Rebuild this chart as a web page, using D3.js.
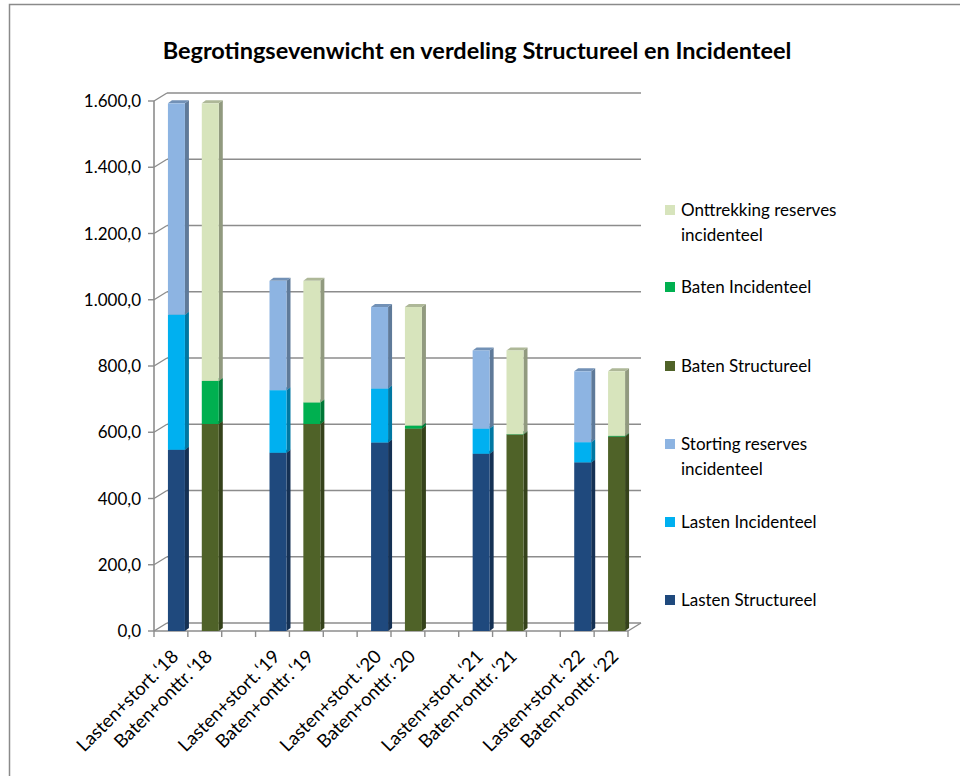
<!DOCTYPE html>
<html>
<head>
<meta charset="utf-8">
<script src="https://cdn.jsdelivr.net/npm/d3@7"></script>
<style>
  body { margin: 0; background: #fff; }
  text { font-family: Lato, "Open Sans", sans-serif; fill: #000; }
</style>
</head>
<body>
<svg id="chart" width="960" height="776"></svg>
<script>
const svg = d3.select("#chart");
const width = +svg.attr("width");
const height = +svg.attr("height");

// Data
const years = ["18", "19", "20", "21", "22"];
const lastenStructureel = [547, 538, 569, 535, 509];
const lastenIncidenteel = [408, 189, 163, 76, 61];
const stortingReserves = [638, 330, 246, 236, 214];
const batenStructureel = [625, 625, 611, 593, 587];
const batenIncidenteel = [130, 65, 9, 1, 2];
const onttrekkingReserves = [838, 367, 358, 253, 195];
const yTicks = [0, 200, 400, 600, 800, 1000, 1200, 1400, 1600];

const colors = {
  "Lasten Structureel": "#1f497d",
  "Lasten Incidenteel": "#00b0f0",
  "Storting reserves incidenteel": "#8db4e2",
  "Baten Structureel": "#4f6228",
  "Baten Incidenteel": "#00b050",
  "Onttrekking reserves incidenteel": "#d7e4bc"
};

// slots: Lasten, Baten, gap, ... (no gap after last year)
const slots = [];
years.forEach((yr, i) => {
  slots.push({ key: "L" + yr, label: "Lasten+stort.\u2009\u2018" + yr, stack: [
    ["Lasten Structureel", lastenStructureel[i]],
    ["Lasten Incidenteel", lastenIncidenteel[i]],
    ["Storting reserves incidenteel", stortingReserves[i]]] });
  slots.push({ key: "B" + yr, label: "Baten+onttr.\u2009\u2018" + yr, stack: [
    ["Baten Structureel", batenStructureel[i]],
    ["Baten Incidenteel", batenIncidenteel[i]],
    ["Onttrekking reserves incidenteel", onttrekkingReserves[i]]] });
  if (i < years.length - 1) slots.push({ key: "gap" + yr, label: "", stack: [] });
});

// frame
svg.append("rect").attr("x", 9.5).attr("y", 4.5).attr("width", 960).attr("height", 800)
  .attr("fill", "#fff").attr("stroke", "#8a8a8a").attr("stroke-width", 1.5);

// title
svg.append("text").attr("x", 477).attr("y", 59).attr("text-anchor", "middle")
  .attr("font-size", 23.5).attr("font-weight", "bold")
  .text("Begrotingsevenwicht en verdeling Structureel en Incidenteel");

const x0 = 154, x1 = 628;
const wallDx = 13, wallDy = -8;
const x = d3.scaleBand().domain(slots.map(d => d.key)).range([x0, x1]);
const y = d3.scaleLinear().domain([0, 1600]).range([631, 101]);

const gridColor = "#8c8c8c";
const g = svg.append("g");

// back wall gridlines
g.selectAll(".grid").data(yTicks).enter().append("line")
  .attr("x1", x0 + wallDx).attr("x2", x1 + wallDx)
  .attr("y1", d => y(d) + wallDy).attr("y2", d => y(d) + wallDy)
  .attr("stroke", gridColor).attr("stroke-width", 1.6);

// left wall: ticks and diagonals to back wall
g.selectAll(".diag").data(yTicks).enter().append("line")
  .attr("x1", x0 - 6).attr("x2", x0)
  .attr("y1", d => y(d)).attr("y2", d => y(d))
  .attr("stroke", gridColor).attr("stroke-width", 1.4);
g.selectAll(".diag2").data(yTicks).enter().append("line")
  .attr("x1", x0).attr("x2", x0 + wallDx)
  .attr("y1", d => y(d)).attr("y2", d => y(d) + wallDy)
  .attr("stroke", gridColor).attr("stroke-width", 1.4);
g.append("line").attr("x1", x0).attr("x2", x0).attr("y1", y(1600)).attr("y2", y(0))
  .attr("stroke", gridColor).attr("stroke-width", 1.6);

// floor
g.append("line").attr("x1", x0).attr("x2", x1).attr("y1", y(0)).attr("y2", y(0))
  .attr("stroke", gridColor).attr("stroke-width", 1.6);
g.append("line").attr("x1", x1).attr("x2", x1 + wallDx).attr("y1", y(0)).attr("y2", y(0) + wallDy)
  .attr("stroke", gridColor).attr("stroke-width", 1.4);

// x ticks
const xTickPos = d3.range(slots.length + 1).map(i => x0 + i * x.step());
g.selectAll(".xtick").data(xTickPos).enter().append("line")
  .attr("x1", d => d).attr("x2", d => d).attr("y1", y(0)).attr("y2", y(0) + 6)
  .attr("stroke", gridColor).attr("stroke-width", 1.4);

// y labels
const fmt = d3.formatLocale({ decimal: ",", thousands: ".", grouping: [3] }).format(",.1f");
svg.selectAll(".ylab").data(yTicks).enter().append("text")
  .attr("x", 141).attr("y", d => y(d)).attr("dy", "0.36em")
  .attr("text-anchor", "end").attr("font-size", 17)
  .text(d => fmt(d));

// 3D stacked bars
const barW = 17, barDx = 4, barDy = -3, barShift = 5.5;
slots.filter(s => s.stack.length).forEach(s => {
  const bx = x(s.key) + x.bandwidth() / 2 - barW / 2 + barShift;
  let base = 0;
  const bg = g.append("g");
  s.stack.forEach(([name, v]) => {
    const c = colors[name];
    const yb = y(base), yt = y(base + v);
    base += v;
    if (v <= 0) return;
    bg.append("polygon")
      .attr("points", [[bx + barW, yt], [bx + barW + barDx, yt + barDy], [bx + barW + barDx, yb + barDy], [bx + barW, yb]].join(" "))
      .attr("fill", d3.color(c).darker(1.1));
    bg.append("polygon")
      .attr("points", [[bx, yt], [bx + barDx, yt + barDy], [bx + barW + barDx, yt + barDy], [bx + barW, yt]].join(" "))
      .attr("fill", d3.color(c).darker(0.6));
    bg.append("rect").attr("x", bx).attr("y", yt).attr("width", barW).attr("height", yb - yt)
      .attr("fill", c);
  });
});

// x labels
svg.selectAll(".xlab").data(slots.filter(s => s.label)).enter().append("text")
  .attr("text-anchor", "end").attr("font-size", 18.5)
  .attr("transform", d => `translate(${x(d.key) + x.bandwidth() / 2 + 4},${y(0) + 22}) rotate(-45)`)
  .attr("dy", "0.35em")
  .text(d => d.label);

// legend (top to bottom)
const legendItems = [
  { name: "Onttrekking reserves incidenteel", lines: ["Onttrekking reserves", "incidenteel"], y: 210 },
  { name: "Baten Incidenteel", lines: ["Baten Incidenteel"], y: 287 },
  { name: "Baten Structureel", lines: ["Baten Structureel"], y: 366 },
  { name: "Storting reserves incidenteel", lines: ["Storting reserves", "incidenteel"], y: 444 },
  { name: "Lasten Incidenteel", lines: ["Lasten Incidenteel"], y: 522 },
  { name: "Lasten Structureel", lines: ["Lasten Structureel"], y: 600 }
];
const lg = svg.selectAll(".leg").data(legendItems).enter().append("g")
  .attr("transform", d => `translate(665,${d.y})`);
lg.append("rect").attr("x", 0).attr("y", -5).attr("width", 10).attr("height", 10)
  .attr("fill", d => colors[d.name]);
lg.each(function (d) {
  d.lines.forEach((ln, i) => {
    d3.select(this).append("text").attr("x", 16).attr("y", i * 25).attr("dy", "0.36em")
      .attr("font-size", 17).text(ln);
  });
});
</script>
</body>
</html>
